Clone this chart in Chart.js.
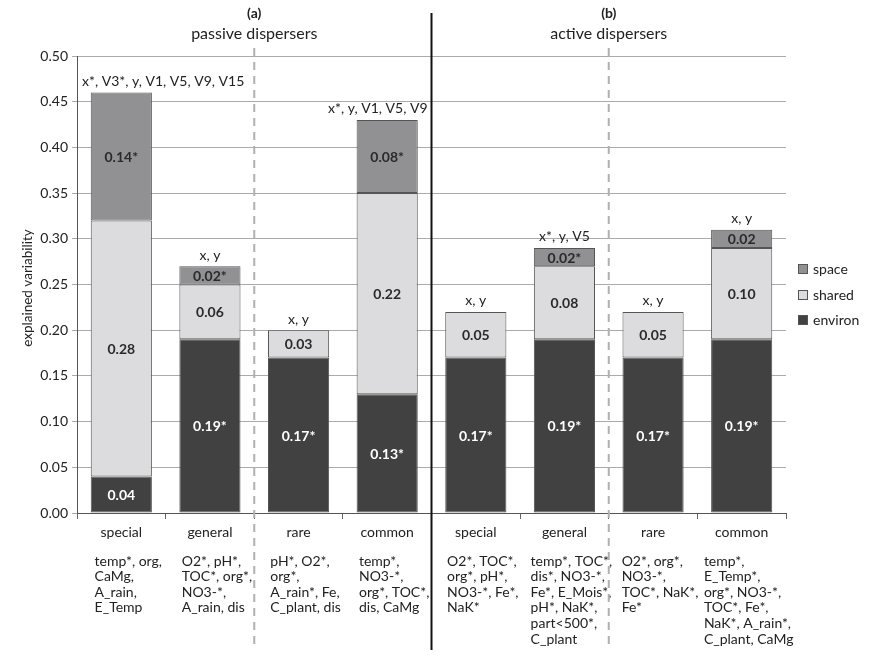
<!DOCTYPE html>
<html><head><meta charset="utf-8">
<script src="https://cdn.jsdelivr.net/npm/chart.js@4/dist/chart.umd.min.js"></script>
<style>html,body{margin:0;padding:0;background:#fff;}#wrap{width:869px;height:658px;}</style>
</head><body><div id="wrap"><canvas id="c" width="869" height="658"></canvas></div>
<script>
const categories = ['special','general','rare','common','special','general','rare','common'];
const environ = [0.04,0.19,0.17,0.13,0.17,0.19,0.17,0.19];
const shared  = [0.28,0.06,0.03,0.22,0.05,0.08,0.05,0.10];
const space   = [0.14,0.02,null,0.08,null,0.02,null,0.02];
const environLabels = ['0.04','0.19*','0.17*','0.13*','0.17*','0.19*','0.17*','0.19*'];
const sharedLabels  = ['0.28','0.06','0.03','0.22','0.05','0.08','0.05','0.10'];
const spaceLabels   = ['0.14*','0.02*','','0.08*','','0.02*','','0.02'];
const topLabels = ['x*, V3*, y, V1, V5, V9, V15','x, y','x, y','x*, y, V1, V5, V9','x, y','x*, y, V5','x, y','x, y'];
const predictors = [
  ['temp*, org,','CaMg,','A_rain,','E_Temp'],
  ['O2*, pH*,','TOC*, org*,','NO3-*,','A_rain, dis'],
  ['pH*, O2*,','org*,','A_rain*, Fe,','C_plant, dis'],
  ['temp*,','NO3-*,','org*, TOC*,','dis, CaMg'],
  ['O2*, TOC*,','org*, pH*,','NO3-*, Fe*,','NaK*'],
  ['temp*, TOC*,','dis*, NO3-*,','Fe*, E_Mois*,','pH*, NaK*,','part<500*,','C_plant'],
  ['O2*, org*,','NO3-*,','TOC*, NaK*,','Fe*'],
  ['temp*,','E_Temp*,','org*, NO3-*,','TOC*, Fe*,','NaK*, A_rain*,','C_plant, CaMg']
];
const groupLetters = ['(a)','(b)'];
const groupTitles = ['passive dispersers','active dispersers'];
const yAxisTitle = 'explained variability';
const colors = {environ:'#414141', shared:'#dcdcde', space:'#919193'};

const FONT = 'Lato, "Open Sans", sans-serif';
const TXT = '#222';

const overlay = {
  id:'overlay',
  afterDatasetsDraw(chart){
    const ctx = chart.ctx, ca = chart.chartArea;
    const xs = chart.scales.x, ys = chart.scales.y;
    const catW = (ca.right-ca.left)/categories.length;
    const xDash1 = ca.left + catW*2, xDash2 = ca.left + catW*6, xSolid = ca.left + catW*4;
    ctx.save();
    // segment labels
    const labelSets = [environLabels, sharedLabels, spaceLabels];
    chart.data.datasets.forEach((ds,di)=>{
      const meta = chart.getDatasetMeta(di);
      meta.data.forEach((el,i)=>{
        const t = labelSets[di][i];
        if(!t || ds.data[i]==null) return;
        ctx.font = 'bold 14px '+FONT;
        ctx.fillStyle = di===0 ? '#ffffff' : '#2a2a2a';
        ctx.textAlign='center'; ctx.textBaseline='middle';
        ctx.fillText(t, el.x, (el.y+el.base)/2 + 1);
      });
    });
    // top labels (kept inside their panel)
    categories.forEach((c,i)=>{
      const tot = (environ[i]||0)+(shared[i]||0)+(space[i]||0);
      const y = ys.getPixelForValue(tot);
      ctx.font = '14px '+FONT; ctx.fillStyle=TXT;
      ctx.textAlign='left'; ctx.textBaseline='middle';
      const w = ctx.measureText(topLabels[i]).width;
      const lo = (i<4 ? ca.left : xSolid) + 5;
      const hi = (i<4 ? xSolid - 4 : ca.right);
      let x0 = xs.getPixelForValue(i) - w/2;
      if (x0 < lo) x0 = lo;
      if (x0 + w > hi) x0 = hi - w;
      ctx.fillText(topLabels[i], x0, y-11);
    });
    // predictor lists
    ctx.font = '14px '+FONT; ctx.fillStyle=TXT; ctx.textBaseline='middle'; ctx.textAlign='left';
    predictors.forEach((lines,i)=>{
      let w = 0; lines.forEach(l=>{w=Math.max(w, ctx.measureText(l).width);});
      const x0 = xs.getPixelForValue(i) - w/2 + 7;
      lines.forEach((l,k)=>{ ctx.fillText(l, x0, 561 + k*15.6); });
    });
    // dividers
    ctx.strokeStyle='#b0b0b0'; ctx.lineWidth=2; ctx.setLineDash([8,6]);
    [xDash1,xDash2].forEach(x=>{ ctx.beginPath(); ctx.moveTo(x,48); ctx.lineTo(x,650); ctx.stroke(); });
    ctx.setLineDash([]);
    ctx.strokeStyle='#111'; ctx.lineWidth=2;
    ctx.beginPath(); ctx.moveTo(xSolid,13); ctx.lineTo(xSolid,650); ctx.stroke();
    // group titles
    [xDash1,xDash2].forEach((x,g)=>{
      ctx.fillStyle=TXT; ctx.textAlign='center'; ctx.textBaseline='middle';
      ctx.font='bold 14px '+FONT; ctx.fillText(groupLetters[g], x, 13);
      ctx.font='16px '+FONT; ctx.fillText(groupTitles[g], x, 34);
    });
    // y title
    ctx.save(); ctx.translate(28, 288); ctx.rotate(-Math.PI/2);
    ctx.font='13.5px '+FONT; ctx.fillStyle=TXT; ctx.textAlign='center'; ctx.textBaseline='middle';
    ctx.fillText(yAxisTitle,0,0); ctx.restore();
    // legend
    const legend = [['space',269],['shared',295],['environ',320]];
    legend.forEach(([n,y])=>{
      ctx.fillStyle = colors[n]; ctx.fillRect(798,y-5,10,10);
      ctx.strokeStyle='#555'; ctx.lineWidth=1; ctx.strokeRect(798.5,y-4.5,9,9);
      ctx.fillStyle=TXT; ctx.font='14px '+FONT; ctx.textAlign='left'; ctx.textBaseline='middle';
      ctx.fillText(n, 813, y);
    });
    ctx.restore();
  }
};

const mk = (name,data)=>({label:name,data:data,backgroundColor:colors[name],borderColor:'#555',borderWidth:1,borderSkipped:false,barPercentage:0.69,categoryPercentage:1});

new Chart(document.getElementById('c'),{
  type:'bar',
  data:{labels:categories,datasets:[mk('environ',environ),mk('shared',shared),mk('space',space)]},
  options:{
    responsive:false, animation:false, devicePixelRatio:1,
    layout:{padding:{top:56,right:83,left:0,bottom:0}},
    plugins:{legend:{display:false},tooltip:{enabled:false}},
    scales:{
      x:{stacked:true, offset:true,
        grid:{offset:true, drawOnChartArea:false, drawTicks:true, tickLength:6, color:'#666'},
        border:{color:'#555',width:1},
        ticks:{font:{family:FONT,size:14},color:TXT,padding:5,maxRotation:0},
        afterFit(s){ s.height=145; }
      },
      y:{stacked:true, min:0, max:0.5,
        grid:{color:'#ababab', tickLength:5, drawTicks:true},
        border:{color:'#555',width:1},
        ticks:{stepSize:0.05, font:{family:FONT,size:14}, color:TXT, padding:4, callback:v=>Number(v).toFixed(2)},
        afterFit(s){ s.width=77; }
      }
    }
  },
  plugins:[overlay]
});
</script></body></html>
